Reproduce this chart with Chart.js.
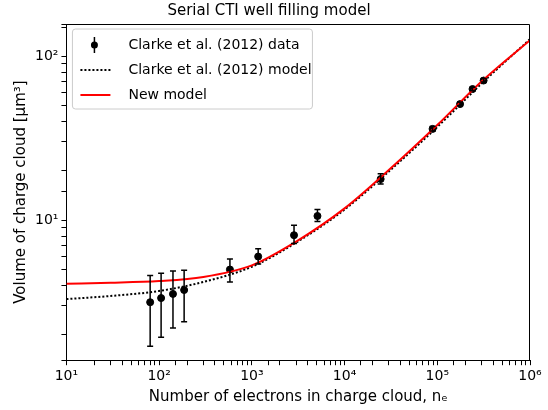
<!DOCTYPE html>
<html><head><meta charset="utf-8">
<script src="https://cdn.jsdelivr.net/npm/chart.js@4"></script>
<style>html,body{margin:0;padding:0;background:#fff}#wrap{width:548px;height:410px}</style>
</head><body><div id="wrap"><canvas id="c"></canvas></div>
<script>
const dataX=[80,105,141,186,580,1170,2850,5100,24500,89000,176000,240000,316000];
const dataY=[3.16,3.35,3.55,3.75,5.0,6.0,8.1,10.6,17.8,36,51,63,71];
const errLo=[1.7,1.93,2.2,2.4,4.2,5.4,7.2,9.8,16.6,35,50,61.5,69.5];
const errHi=[4.6,4.75,4.9,4.95,5.8,6.7,9.3,11.6,19.2,37.2,52.5,64.5,73];
const modelX=[10,30,100,300,1000,3000,10000,30000,100000,300000,1000000];
const clarkeY=[3.3,3.45,3.7,4.2,5.2,7.3,11.6,19.8,37,68,127];
const newY=[4.1,4.15,4.25,4.5,5.3,7.4,11.8,20.2,38,70,125];
const sup={'1':'¹','2':'²','3':'³','4':'⁴','5':'⁵','6':'⁶'};
const font='"DejaVu Sans"';
const errPlugin={id:'err',afterDatasetsDraw(ch){
  const c=ch.ctx,x=ch.scales.x,y=ch.scales.y,A=ch.chartArea;c.save();c.strokeStyle='#000';c.lineWidth=1.5;
  dataX.forEach((v,i)=>{const px=x.getPixelForValue(v),a=y.getPixelForValue(errLo[i]),b=y.getPixelForValue(errHi[i]);
    c.beginPath();c.moveTo(px,a);c.lineTo(px,b);c.moveTo(px-3,a);c.lineTo(px+3,a);c.moveTo(px-3,b);c.lineTo(px+3,b);c.stroke();});
  c.lineWidth=1;c.beginPath();c.moveTo(A.left,A.top+0.5);c.lineTo(A.right-0.5,A.top+0.5);c.lineTo(A.right-0.5,A.bottom);c.stroke();
  const L=A.left+6,T=A.top+5;
  c.fillStyle='#fff';c.strokeStyle='#ccc';c.lineWidth=1;
  c.beginPath();c.roundRect(L,T,240,80,3);c.fill();c.stroke();
  c.font='14px '+font;c.fillStyle='#000';c.textBaseline='middle';
  const rows=[T+16,T+41,T+66];
  c.strokeStyle='#000';c.lineWidth=1.5;c.beginPath();c.moveTo(L+22,rows[0]-8);c.lineTo(L+22,rows[0]+8);c.stroke();
  c.beginPath();c.arc(L+22,rows[0],3.5,0,7);c.fill();
  c.setLineDash([2,2]);c.lineWidth=2;c.beginPath();c.moveTo(L+8,rows[1]);c.lineTo(L+38,rows[1]);c.stroke();c.setLineDash([]);
  c.strokeStyle='red';c.beginPath();c.moveTo(L+8,rows[2]);c.lineTo(L+38,rows[2]);c.stroke();
  c.fillText('Clarke et al. (2012) data',L+56,rows[0]);
  c.fillText('Clarke et al. (2012) model',L+56,rows[1]);
  c.fillText('New model',L+56,rows[2]);
  c.restore();}};
const tk=v=>{const l=Math.log10(v);return Math.abs(l-Math.round(l))<1e-9?'10'+sup[Math.round(l)]:'';};
new Chart(document.getElementById('c'),{
 type:'scatter',
 data:{datasets:[
  {data:modelX.map((v,i)=>({x:v,y:newY[i]})),showLine:true,borderColor:'red',borderWidth:2,pointRadius:0,cubicInterpolationMode:'monotone'},
  {data:modelX.map((v,i)=>({x:v,y:clarkeY[i]})),showLine:true,borderColor:'#000',borderWidth:2,borderDash:[2,2],pointRadius:0,cubicInterpolationMode:'monotone'},
  {data:dataX.map((v,i)=>({x:v,y:dataY[i]})),pointRadius:3.5,backgroundColor:'#000',borderColor:'#000'}
 ]},
 options:{responsive:true,maintainAspectRatio:false,animation:false,
  layout:{padding:{left:8,right:18,top:2}},
  plugins:{legend:{display:false},tooltip:{enabled:false},
   title:{display:true,text:'Serial CTI well filling model',color:'#000',font:{family:font,size:15,weight:'normal'},padding:{top:0,bottom:4}}},
  scales:{
   x:{type:'logarithmic',min:10,max:1e6,
    border:{color:'#000',width:1},grid:{drawOnChartArea:false,color:'#000',tickLength:5},
    ticks:{color:'#000',font:{family:font,size:14},maxRotation:0,autoSkip:false,callback:tk},
    title:{display:true,text:'Number of electrons in charge cloud, nₑ',color:'#000',font:{family:font,size:15},padding:{top:0}}},
   y:{type:'logarithmic',min:1.4,max:157,
    border:{color:'#000',width:1},grid:{drawOnChartArea:false,color:'#000',tickLength:5},
    ticks:{color:'#000',font:{family:font,size:14},autoSkip:false,callback:tk},
    title:{display:true,text:'Volume of charge cloud [μm³]',color:'#000',font:{family:font,size:15},padding:{bottom:2}}}
  }},
 plugins:[errPlugin]});
</script></body></html>
